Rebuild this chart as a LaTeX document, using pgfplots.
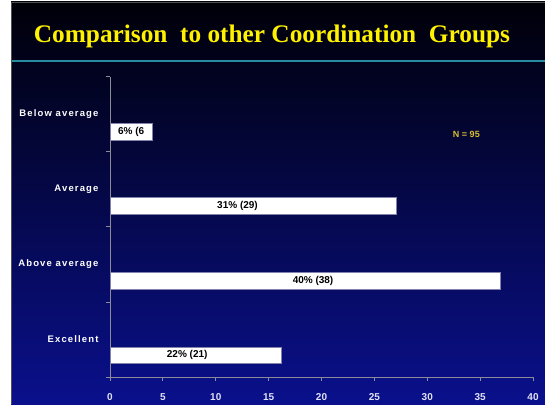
\documentclass[border=0pt]{standalone}
\usepackage{pgfplots}
\pgfplotsset{compat=1.18}
\usepackage{fontspec}
\setmainfont{Liberation Sans}
\newfontfamily\titlefont{Liberation Serif}
\newfontfamily\lblfont[LetterSpace=12]{Liberation Sans}
\definecolor{bgtop}{RGB}{0,0,8}
\definecolor{bgmid}{RGB}{0,26,100}
\definecolor{bgbot}{RGB}{10,16,140}
\definecolor{tealline}{RGB}{40,140,160}
\definecolor{axisgray}{RGB}{140,140,150}
\definecolor{framegray}{RGB}{80,80,80}
\definecolor{ticklbl}{RGB}{225,225,245}
\definecolor{nclr}{RGB}{215,190,50}
\definecolor{baredge}{RGB}{130,130,170}
\begin{document}
\begin{tikzpicture}[x=1pt,y=1pt]
\path[use as bounding box] (0,0) rectangle (545,404);
\fill[white] (0,0) rectangle (545,404);
\shade[top color=bgtop, middle color=bgmid, bottom color=bgbot] (11,0) rectangle (545,402);
\draw[framegray, line width=0.8] (11,0) -- (11,402) -- (545,402);
\draw[tealline, line width=2] (12,343) -- (545,343);
\node[text=yellow, font=\titlefont\bfseries\fontsize{25.3}{29}\selectfont] at (272,368) {Comparison\ \ to other Coordination\ \ Groups};
\begin{axis}[
  at={(110pt,27pt)}, anchor=south west,
  scale only axis, width=423pt, height=300pt,
  xmin=0, xmax=40, ymin=-0.5, ymax=3.5,
  axis x line*=bottom, axis y line*=left,
  axis line style={draw=axisgray, line width=1, -},
  tick style={draw=axisgray, line width=1},
  tick align=outside, major tick length=4pt,
  xtick={0,5,...,40},
  xticklabel style={font=\bfseries\fontsize{10}{11}\selectfont, text=ticklbl, yshift=-9pt},
  /pgf/number format/assume math mode=true,
  ytick={-0.5,0.5,1.5,2.5,3.5}, yticklabels={},
  extra y ticks={0,1,2,3},
  extra y tick labels={Excellent, Above average, Average, Below average},
  extra y tick style={major tick length=0pt, yticklabel style={font=\lblfont\bfseries\fontsize{9.5}{11}\selectfont, text=white, xshift=-8pt}},
  clip=false,
]
\addplot[xbar, bar width=0.22, fill=white, draw=baredge, line width=0.6] coordinates {(4,2.77) (27.1,1.785) (36.9,0.78) (16.2,-0.21)};
\addplot[only marks, mark=none, nodes near coords, point meta=explicit symbolic,
  nodes near coords style={anchor=center, font=\bfseries\fontsize{10}{11}\selectfont, text=black}]
  coordinates {(2.0,2.77)[6\% (6] (12.06,1.785)[31\% (29)] (19.2,0.78)[40\% (38)] (7.3,-0.21)[22\% (21)]};
\node[font=\bfseries\fontsize{9}{10}\selectfont, text=nclr] at (axis cs:33.7,2.73) {N = 95};
\end{axis}
\end{tikzpicture}
\end{document}
